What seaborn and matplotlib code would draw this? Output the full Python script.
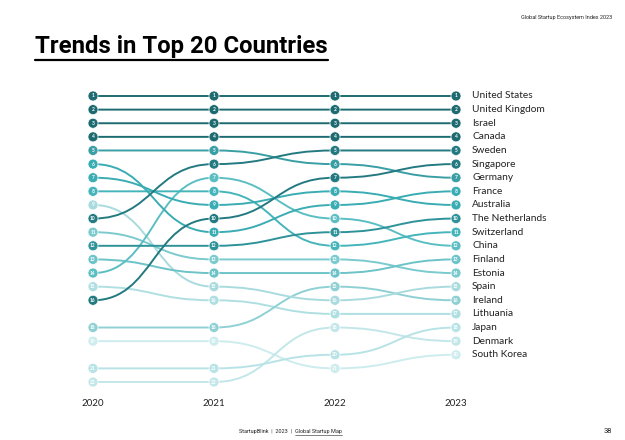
import matplotlib
matplotlib.use("Agg")
import matplotlib.pyplot as plt
from matplotlib.path import Path
from matplotlib.patches import PathPatch
import seaborn as sns
import pandas as pd

# ranks per year (2023 order)
countries = ['United States', 'United Kingdom', 'Israel', 'Canada', 'Sweden',
             'Singapore', 'Germany', 'France', 'Australia', 'The Netherlands',
             'Switzerland', 'China', 'Finland', 'Estonia', 'Spain', 'Ireland',
             'Lithuania', 'Japan', 'Denmark', 'South Korea']
years = [2020, 2021, 2022, 2023]
rank_2020 = [1, 2, 3, 4, 10, 16, 5, 6, 7, 12, 8, 14, 13, 11, 9, 18, 15, 21, 22, 19]
rank_2021 = [1, 2, 3, 4, 6, 10, 5, 11, 9, 12, 8, 7, 14, 13, 15, 18, 16, 21, 22, 19]
rank_2022 = [1, 2, 3, 4, 5, 7, 6, 9, 8, 11, 12, 10, 14, 13, 16, 15, 17, 20, 18, 21]
rank_2023 = [1, 2, 3, 4, 5, 6, 7, 8, 9, 10, 11, 12, 13, 14, 15, 16, 17, 18, 19, 20]

colors = ['#1d6b70', '#1d6b70', '#1d6b70', '#1d6b70', '#237a80',
          '#237a80', '#3a9ea5', '#3aacb3', '#3aacb3', '#2e9299',
          '#45b5bb', '#5bbec3', '#6cc3c8', '#7acace', '#a9dbde', '#8fd0d4',
          '#b0dfe2', '#b8e3e6', '#c3e7e9', '#cdecee']

df = pd.DataFrame({
    'country': countries * 4,
    'year': [y for y in years for _ in countries],
    'rank': rank_2020 + rank_2021 + rank_2022 + rank_2023,
})
palette = dict(zip(countries, colors))

sns.set_theme(style="white")
plt.rcParams['font.family'] = ['Lato', 'DejaVu Sans']

fig = plt.figure(figsize=(6.25, 4.4), dpi=100)
ax = fig.add_axes([0, 0, 1, 1])
px_year = 121.0
px_rank = 286.0 / 21
ax.set_xlim(2020 - 93 / px_year, 2020 + (625 - 93) / px_year)
ax.set_ylim(1 + (440 - 96) / px_rank, 1 - 96 / px_rank)
ax.axis('off')

# smooth bump lines, darker ones on top
for i in reversed(range(len(countries))):
    sub = df[df['country'] == countries[i]].sort_values('year')
    xs, ys = sub['year'].tolist(), sub['rank'].tolist()
    verts, codes = [(xs[0], ys[0])], [Path.MOVETO]
    for k in range(1, len(xs)):
        mid = (xs[k] - xs[k - 1]) / 2
        verts += [(xs[k - 1] + mid, ys[k - 1]), (xs[k] - mid, ys[k]), (xs[k], ys[k])]
        codes += [Path.CURVE4] * 3
    ax.add_patch(PathPatch(Path(verts, codes), fill=False, ec=colors[i],
                           lw=1.4, zorder=2 + (20 - i) * 0.01))

sns.scatterplot(data=df, x='year', y='rank', hue='country', palette=palette,
                s=52, edgecolor='white', linewidth=0.5, legend=False,
                zorder=4, ax=ax)
for _, row in df.iterrows():
    ax.text(row['year'], row['rank'], str(row['rank']), color='white',
            fontsize=3.5, fontweight='bold', ha='center', va='center', zorder=5)

for name, r in zip(countries, rank_2023):
    ax.text(2023 + 16 / px_year, r, name, fontsize=7.3, color='#222222',
            va='center', ha='left')

for y in years:
    ax.text(y, 1 + (403 - 96) / px_rank, str(y), fontsize=7, color='#222222',
            ha='center', va='center')

cond = ['Roboto', 'DejaVu Sans']
title = fig.text(35 / 625, 1 - 46 / 440, 'Trends in Top 20 Countries', fontsize=17.2,
                 fontweight='bold', family=cond, ha='left', va='center', color='black')
fig.text(612 / 625, 1 - 18 / 440, 'Global Startup Ecosystem Index 2023',
         fontsize=4, family=cond, ha='right', va='center', color='#222222')
foot_a = fig.text(295 / 625, 1 - 431 / 440, 'StartupBlink  |  2023  |  ',
                  fontsize=4, family=cond, ha='right', va='center', color='#222222')
foot_b = fig.text(295 / 625, 1 - 431 / 440, 'Global Startup Map',
                  fontsize=4, family=cond, ha='left', va='center', color='#222222')
fig.text(612 / 625, 1 - 431 / 440, '38', fontsize=5.5, family=cond, ha='right',
         va='center', color='#222222')

# underlines under the title and the link text
fig.canvas.draw()
inv = fig.transFigure.inverted()
for t, gap, lw in [(title, 3, 1.6), (foot_b, 1, 0.4)]:
    bb = t.get_window_extent()
    (x0, y0), (x1, _) = inv.transform([(bb.x0, bb.y0 - gap), (bb.x1, bb.y0)])
    fig.add_artist(plt.Line2D([x0, x1], [y0, y0], color=t.get_color(), lw=lw))

fig.savefig('out.png', dpi=100)
